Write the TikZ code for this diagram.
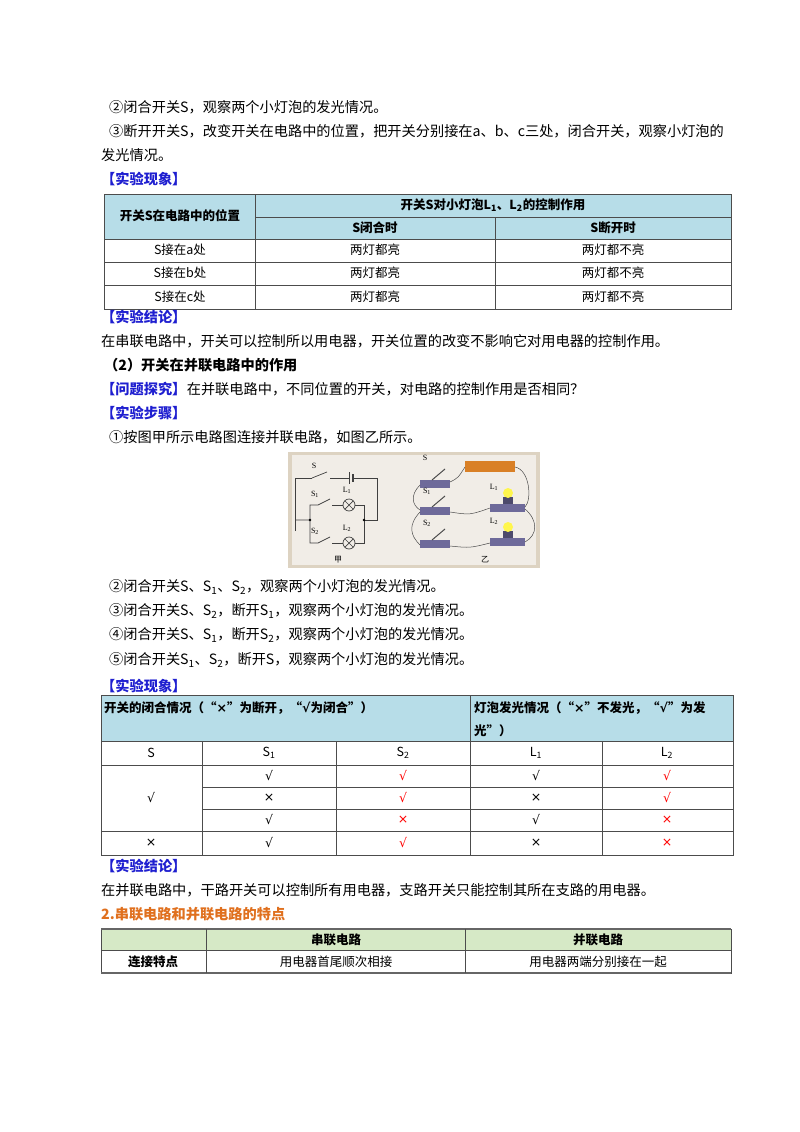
\documentclass[tikz,border=0pt]{standalone}
\usepackage{fontspec}
\setmainfont{Noto Sans CJK SC}
\newfontfamily\serifl{Liberation Serif}
\newfontfamily\djvfont{DejaVu Sans}
\usetikzlibrary{calc}
\definecolor{hblue}{HTML}{B7DDE8}
\definecolor{hgreen}{HTML}{D6E9C6}
\definecolor{kblue}{HTML}{1F1FD0}
\definecolor{korange}{HTML}{E0701E}
\definecolor{bgimg}{HTML}{DDD3C2}
\definecolor{basep}{HTML}{6E6A9A}
\newcommand{\ck}{{\djvfont √}}
\newcommand{\cx}{{\djvfont ×}}
\begin{document}
\begin{tikzpicture}[x=1pt,y=-1pt,
  body/.style={anchor=west,inner sep=0pt,font=\fontsize{14.2}{14}\selectfont},
  head/.style={anchor=west,inner sep=0pt,font=\fontsize{14.2}{14}\selectfont\bfseries,text=kblue},
  tc/.style={inner sep=0pt,font=\fontsize{12.5}{12}\selectfont},
  tb/.style={inner sep=0pt,font=\fontsize{12.5}{12}\selectfont\bfseries},
  grid/.style={draw=black!70,line width=0.8pt},
  red/.style={text=red},
  wire/.style={draw=black!75,line width=0.7pt},
  lab/.style={inner sep=0pt,font=\fontsize{8}{8}\serifl},
  cjl/.style={inner sep=0pt,font=\fontsize{8}{8}\selectfont}]
\useasboundingbox (0,0) rectangle (800,1132);
\fill[white] (0,0) rectangle (800,1132);
% top text
\node[body] (t1) at (109,107) {②闭合开关S，观察两个小灯泡的发光情况。};
\node[body] (t2) at (109,131) {③断开开关S，改变开关在电路中的位置，把开关分别接在a、b、c三处，闭合开关，观察小灯泡的};
\node[body] (t3) at (101,155) {发光情况。};
\node[head] (h1) at (101,179) {【实验现象】};
% table 1
\fill[hblue] (104,194) rectangle (731,239);
\draw[grid] (104,194) rectangle (731,309);
\draw[grid] (255,194) -- (255,309);
\draw[grid] (495,217) -- (495,309);
\draw[grid] (255,217) -- (731,217);
\draw[grid] (104,239) -- (731,239);
\draw[grid] (104,262) -- (731,262);
\draw[grid] (104,285) -- (731,285);
\node[tb] (a0) at (180,216) {开关S在电路中的位置};
\node[tb] (a1) at (493,205) {开关S对小灯泡L\textsubscript{1}、L\textsubscript{2}的控制作用};
\node[tb] (a2) at (375,228) {S闭合时};
\node[tb] (a3) at (613,228) {S断开时};
\foreach \y/\l in {250/a,273/b,297/c}{
  \node[tc] at (180,\y) {S接在\l 处};
  \node[tc] at (375,\y) {两灯都亮};
  \node[tc] at (613,\y) {两灯都不亮};
}
\node[head] (h2) at (101,317) {【实验结论】};
\node[body] (t4) at (101,341) {在串联电路中，开关可以控制所以用电器，开关位置的改变不影响它对用电器的控制作用。};
\node[body,font=\fontsize{14.2}{14}\selectfont\bfseries] (t5) at (104,365) {（2）开关在并联电路中的作用};
\node[head] (h3) at (101,389) {【问题探究】};
\node[body] (t6) at (h3.east) {在并联电路中，不同位置的开关，对电路的控制作用是否相同？};
\node[head] (h4) at (101,413) {【实验步骤】};
\node[body] (t7) at (109,437) {①按图甲所示电路图连接并联电路，如图乙所示。};
% picture
\fill[bgimg] (288,452) rectangle (540,568);
\fill[white!60!bgimg] (292,455) rectangle (536,565);
% schematic
\draw[wire] (295,531) -- (295,478) -- (312,478);
\draw[wire] (312,478) -- (327,472);
\draw[wire] (330,478) -- (349,478);
\draw[wire] (349,472) -- (349,484);
\draw[wire,line width=1.4pt] (353,474) -- (353,482);
\draw[wire] (353,478) -- (377,478) -- (377,520) -- (364,520);
\draw[wire] (295,520) -- (310,520) -- (310,505) -- (318,505) -- (330,499);
\draw[wire] (332,505) -- (343,505);
\draw[wire] (349,505) circle (6);
\draw[wire] (345,501) -- (353,509) (345,509) -- (353,501);
\draw[wire] (355,505) -- (364,505) -- (364,543) -- (355,543);
\draw[wire] (310,520) -- (310,543) -- (318,543) -- (330,537);
\draw[wire] (332,543) -- (343,543);
\draw[wire] (349,543) circle (6);
\draw[wire] (345,539) -- (353,547) (345,547) -- (353,539);
\fill (310,520) circle (1.3) (364,520) circle (1.3);
\node[lab] at (314,466) {S};
\node[lab] at (315,494) {S\textsubscript{1}};
\node[lab] at (347,490) {L\textsubscript{1}};
\node[lab] at (315,531) {S\textsubscript{2}};
\node[lab] at (347,528) {L\textsubscript{2}};
\node[cjl] at (338,560) {甲};
% photo
\foreach \y in {485,512,545}{
  \fill[basep] (420,\y-5) rectangle (450,\y+3);
  \draw[black!70,line width=1pt] (432,\y-5) -- (445,\y-16);
}
\foreach \y in {509,543}{
  \fill[basep] (490,\y-5) rectangle (525,\y+3);
  \fill[basep!70!black] (503,\y-12) rectangle (513,\y-5);
  \fill[yellow!70!white] (508,\y-16) circle (5);
}
\fill[brown!60!orange] (465,461) rectangle (515,472);
\draw[black!70,line width=0.5pt] (450,482) .. controls (458,478) .. (465,467);
\draw[black!70,line width=0.5pt] (515,467) .. controls (530,470) and (532,500) .. (525,507);
\draw[black!70,line width=0.5pt] (420,485) .. controls (410,495) and (412,505) .. (420,510);
\draw[black!70,line width=0.5pt] (450,512) .. controls (470,515) .. (490,508);
\draw[black!70,line width=0.5pt] (525,509) .. controls (538,520) and (538,535) .. (525,542);
\draw[black!70,line width=0.5pt] (420,512) .. controls (408,525) and (410,535) .. (420,545);
\draw[black!70,line width=0.5pt] (450,546) .. controls (470,548) .. (490,543);
\node[lab] at (425,458) {S};
\node[lab] at (427,491) {S\textsubscript{1}};
\node[lab] at (427,523) {S\textsubscript{2}};
\node[lab] at (494,487) {L\textsubscript{1}};
\node[lab] at (494,521) {L\textsubscript{2}};
\node[cjl] at (485,560) {乙};
% steps
\node[body] (t8) at (109,587) {②闭合开关S、S\textsubscript{1}、S\textsubscript{2}，观察两个小灯泡的发光情况。};
\node[body] (t9) at (109,611) {③闭合开关S、S\textsubscript{2}，断开S\textsubscript{1}，观察两个小灯泡的发光情况。};
\node[body] (t10) at (109,635) {④闭合开关S、S\textsubscript{1}，断开S\textsubscript{2}，观察两个小灯泡的发光情况。};
\node[body] (t11) at (109,660) {⑤闭合开关S\textsubscript{1}、S\textsubscript{2}，断开S，观察两个小灯泡的发光情况。};
\node[head] (h5) at (101,686) {【实验现象】};
% table 2
\fill[hblue] (101,695) rectangle (733,741);
\draw[grid] (101,695) rectangle (733,855);
\draw[grid] (470,695) -- (470,855);
\draw[grid] (101,741) -- (733,741);
\draw[grid] (101,765) -- (733,765);
\draw[grid] (202,787) -- (733,787);
\draw[grid] (202,809) -- (733,809);
\draw[grid] (101,831) -- (733,831);
\draw[grid] (202,741) -- (202,855);
\draw[grid] (336,741) -- (336,855);
\draw[grid] (602,741) -- (602,855);
\node[tb,anchor=west] (b0) at (104,708) {开关的闭合情况（“\cx”为断开，“\ck 为闭合”）};
\node[tb,anchor=west] (b1) at (474,708) {灯泡发光情况（“\cx”不发光，“\ck”为发};
\node[tb,anchor=west] (b2) at (474,731) {光”）};
\node[tc] at (151,753) {S};
\node[tc] at (269,753) {S\textsubscript{1}};
\node[tc] at (403,753) {S\textsubscript{2}};
\node[tc] at (536,753) {L\textsubscript{1}};
\node[tc] at (667,753) {L\textsubscript{2}};
\node[tc] at (151,798) {\ck};
\node[tc] at (151,843) {\cx};
\foreach \y/\a/\b/\c/\d in {776/\ck/\ck/\ck/\ck, 798/\cx/\ck/\cx/\ck, 820/\ck/\cx/\ck/\cx, 843/\ck/\ck/\cx/\cx}{
  \node[tc] at (269,\y) {\a};
  \node[tc,red] at (403,\y) {\b};
  \node[tc] at (536,\y) {\c};
  \node[tc,red] at (667,\y) {\d};
}
\node[head] (h6) at (101,866) {【实验结论】};
\node[body] (t12) at (101,890) {在并联电路中，干路开关可以控制所有用电器，支路开关只能控制其所在支路的用电器。};
\node[body,font=\fontsize{14.2}{14}\selectfont\bfseries,text=korange] (t13) at (101,914) {2.串联电路和并联电路的特点};
% table 3
\fill[hgreen] (101,929) rectangle (731,950);
\draw[grid] (101,929) rectangle (731,973);
\draw[black!60,line width=1.5pt] (101,929) -- (731,929) (101,973) -- (731,973);
\draw[grid] (101,950) -- (731,950);
\draw[grid] (206,929) -- (206,973);
\draw[grid] (465,929) -- (465,973);
\node[tb] at (336,940) {串联电路};
\node[tb] at (598,940) {并联电路};
\node[tb] at (153,962) {连接特点};
\node[tc] at (336,962) {用电器首尾顺次相接};
\node[tc] at (598,962) {用电器两端分别接在一起};
\end{tikzpicture}
\end{document}
